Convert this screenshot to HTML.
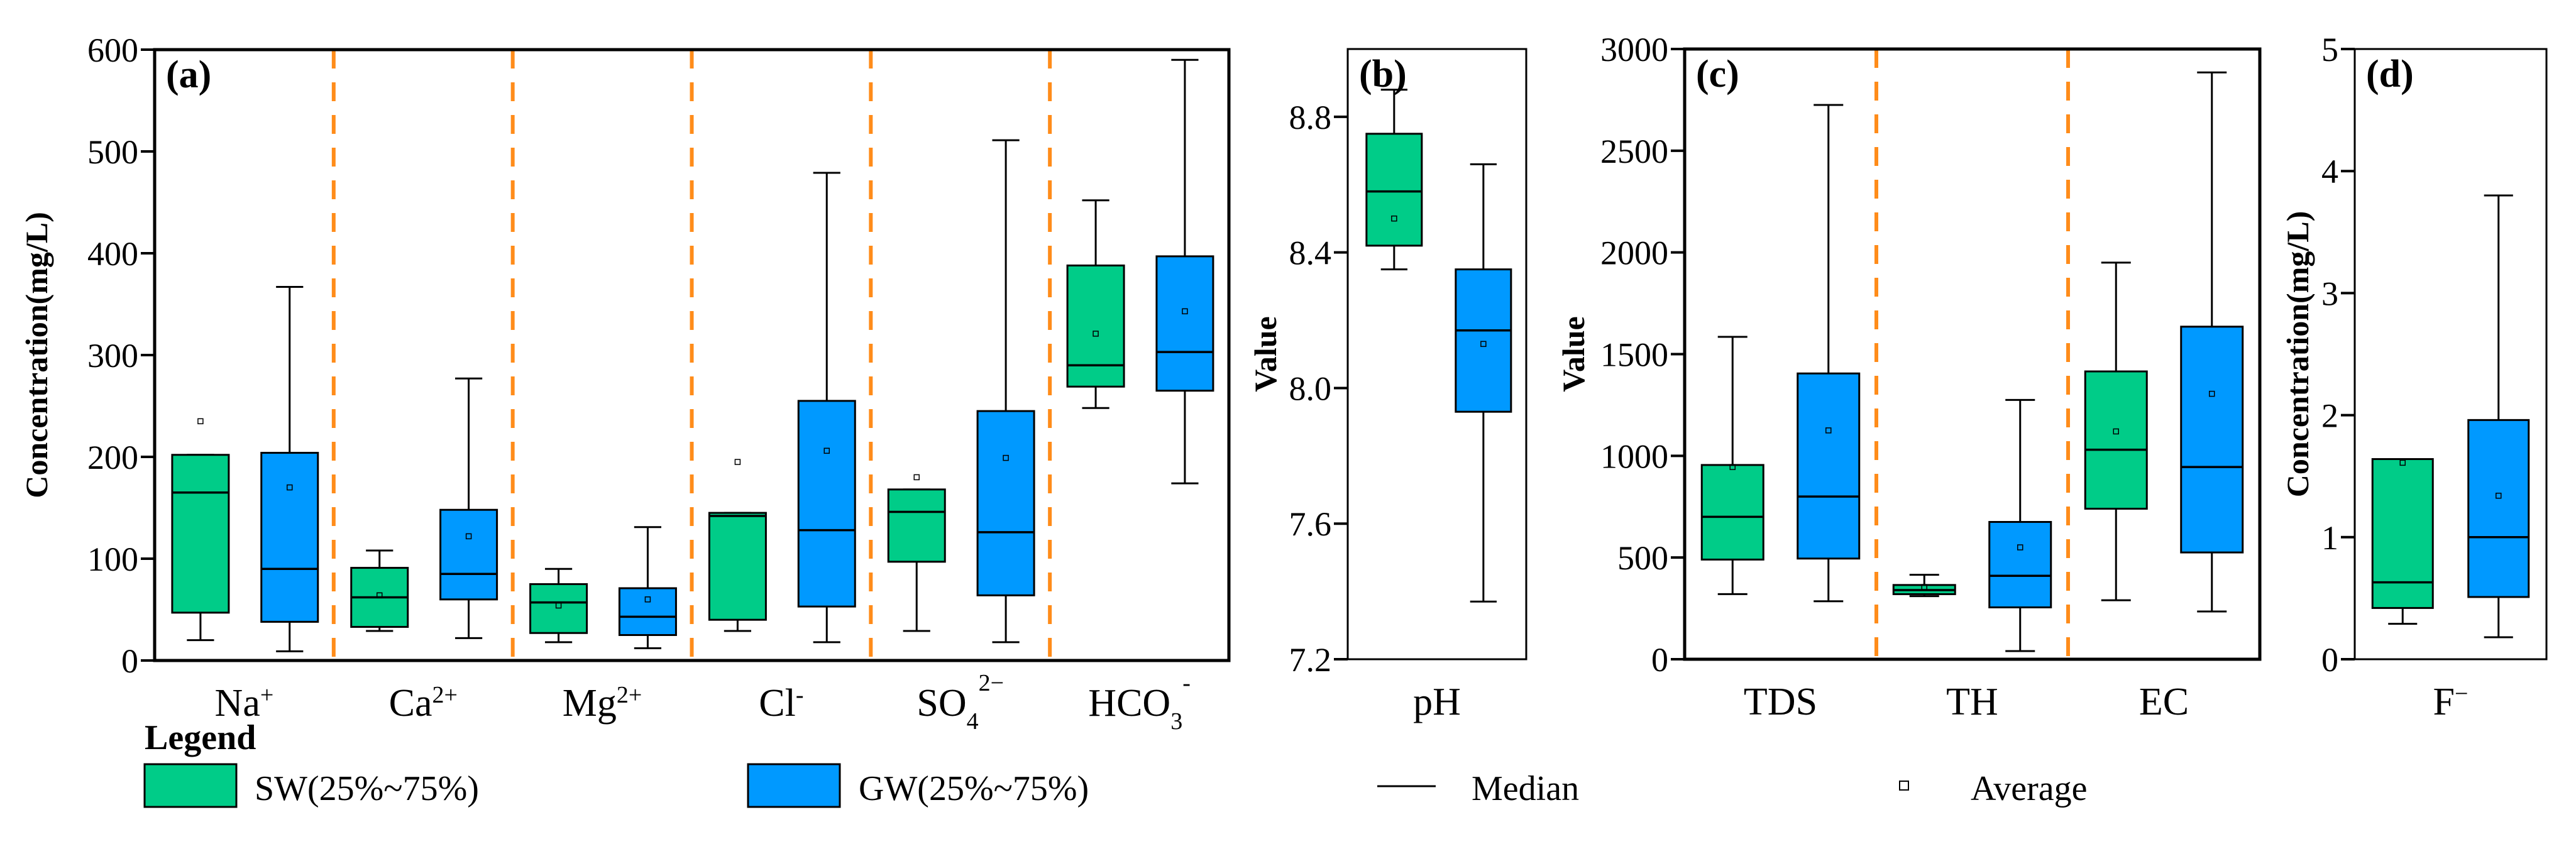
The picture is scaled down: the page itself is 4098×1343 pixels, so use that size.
<!DOCTYPE html>
<html><head><meta charset="utf-8"><style>
html,body{margin:0;padding:0;background:#fff;}
svg, svg text{font-family:"Liberation Serif","DejaVu Serif",serif;}
</style></head><body>
<svg id="c" width="4098" height="1338" viewBox="0 0 4098 1338" xmlns="http://www.w3.org/2000/svg" font-family="Liberation Serif, DejaVu Serif, serif"></svg>
<script>
// ---- data ----
const catsA = ["Na", "Ca", "Mg", "Cl", "SO4", "HCO3"];
const swA = [[20,47,165,202,202],[29,33,62,91,108],[18,27,57,75,90],[29,40,142,145,145],[29,97,146,168,168],[248,269,290,388,452]];
const gwA = [[9,38,90,204,367],[22,60,85,148,277],[12,25,43,71,131],[18,53,128,255,479],[18,64,126,245,511],[174,265,303,397,590]];
const swMeanA = [235,64,54,195,180,321];
const gwMeanA = [170,122,60,206,199,343];
const ticksA = [0,100,200,300,400,500,600];

const catsB = ["pH"];
const swB = [[8.35,8.42,8.58,8.75,8.88]];
const gwB = [[7.37,7.93,8.17,8.35,8.66]];
const swMeanB = [8.5];
const gwMeanB = [8.13];
const ticksB = [7.2,7.6,8.0,8.4,8.8];

const catsC = ["TDS","TH","EC"];
const swC = [[320,490,700,955,1585],[310,320,340,365,415],[290,740,1030,1415,1950]];
const gwC = [[285,495,800,1405,2725],[40,255,410,675,1275],[235,525,945,1635,2885]];
const swMeanC = [945,355,1120];
const gwMeanC = [1125,550,1305];
const ticksC = [0,500,1000,1500,2000,2500,3000];

const catsD = ["F"];
const swD = [[0.29,0.42,0.63,1.64,1.64]];
const gwD = [[0.18,0.51,1.0,1.96,3.8]];
const swMeanD = [1.61];
const gwMeanD = [1.34];
const ticksD = [0,1,2,3,4,5];

const NS="http://www.w3.org/2000/svg";
const svg=document.getElementById('c');
const GREEN="#00CC88", BLUE="#0099FF", ORANGE="#FF8C1A";
const FF="Liberation Serif, DejaVu Serif, serif";
function mk(tag,attrs,parent){const e=document.createElementNS(NS,tag);for(const k in attrs)e.setAttribute(k,attrs[k]);if(tag==='text')e.setAttribute('font-family',FF);(parent||svg).appendChild(e);return e;}

function panel(o){
  const g=mk('g',{});
  
  
  const y=v=>o.bottom-(v-o.min)/(o.max-o.min)*(o.bottom-o.top);
  const n=o.cats.length, w=(o.right-o.left)/n;
  for(let i=1;i<n;i++){
    const l=mk('line',{x1:o.left+i*w,x2:o.left+i*w,y1:o.top,y2:o.bottom+6,stroke:ORANGE,'stroke-width':6,'stroke-dasharray':'30,22'},g);
    
    
  }
  function box(cx,d,mean,color,nm){
    const bg=mk('g',{},g);
    
    
    const hw=o.bw/2, cw=o.bw*0.24;
    mk('line',{x1:cx,x2:cx,y1:y(d[0]),y2:y(d[1]),stroke:'#000','stroke-width':3},bg);
    mk('line',{x1:cx,x2:cx,y1:y(d[3]),y2:y(d[4]),stroke:'#000','stroke-width':3},bg);
    mk('line',{x1:cx-cw,x2:cx+cw,y1:y(d[0]),y2:y(d[0]),stroke:'#000','stroke-width':3},bg);
    mk('line',{x1:cx-cw,x2:cx+cw,y1:y(d[4]),y2:y(d[4]),stroke:'#000','stroke-width':3},bg);
    mk('rect',{x:cx-hw,y:y(d[3]),width:o.bw,height:y(d[1])-y(d[3]),fill:color,stroke:'#000','stroke-width':3},bg);
    mk('line',{x1:cx-hw,x2:cx+hw,y1:y(d[2]),y2:y(d[2]),stroke:'#000','stroke-width':3.5},bg);
    mk('rect',{x:cx-4,y:y(mean)-4,width:8,height:8,fill:'none',stroke:'#000','stroke-width':1.5},bg);
  }
  for(let i=0;i<n;i++){
    const x0=o.left+i*w;
    box(x0+w*o.p1,o.sw[i],o.swm[i],GREEN,'sw-box-'+o.keys[i]);
    box(x0+w*o.p2,o.gw[i],o.gwm[i],BLUE,'gw-box-'+o.keys[i]);
    const t=mk('text',{x:x0+w/2,y:o.bottom+88,'text-anchor':'middle','font-size':62},g);
    t.innerHTML=o.cats[i];
    
    
  }
  const f=mk('rect',{x:o.left,y:o.top,width:o.right-o.left,height:o.bottom-o.top,fill:'none',stroke:'#000','stroke-width':o.sw2||5},g);
  
  
  o.ticks.forEach(v=>{
    mk('line',{x1:o.left-22,x2:o.left,y1:y(v),y2:y(v),stroke:'#000','stroke-width':4},g);
    const t=mk('text',{x:o.left-26,y:y(v)+19,'text-anchor':'end','font-size':54},g);
    t.textContent=o.fmt?o.fmt(v):v;
    
    
  });
  const pl=mk('text',{x:o.left+18,y:o.top+60,'font-size':62,'font-weight':'bold'},g);
  pl.textContent=o.label;
  
  
  const yt=mk('text',{x:0,y:0,'text-anchor':'middle','font-size':50,'font-weight':'bold',transform:`translate(${o.ytx},${(o.top+o.bottom)/2}) rotate(-90)`},g);
  yt.textContent=o.ytitle;
  
  
}
panel({name:'panel-a-ions',label:'(a)',left:246,right:1955,top:79,bottom:1051,min:0,max:600,cats:['Na<tspan baseline-shift="super" font-size="38">+</tspan>','Ca<tspan baseline-shift="super" font-size="38">2+</tspan>','Mg<tspan baseline-shift="super" font-size="38">2+</tspan>','Cl<tspan baseline-shift="super" font-size="38">-</tspan>','SO<tspan baseline-shift="sub" font-size="38">4</tspan><tspan dy="-40" font-size="38">2−</tspan>','HCO<tspan baseline-shift="sub" font-size="38">3</tspan><tspan dy="-40" font-size="38">-</tspan>'],keys:catsA,sw:swA,gw:gwA,swm:swMeanA,gwm:gwMeanA,ticks:ticksA,bw:90,p1:0.256,p2:0.754,ytitle:'Concentration(mg/L)',ytx:75});
panel({name:'panel-b-ph',label:'(b)',left:2144,right:2428,top:78,bottom:1049,min:7.2,max:9.0,cats:catsB,keys:catsB,sw:swB,gw:gwB,swm:swMeanB,gwm:gwMeanB,ticks:ticksB,bw:88,p1:0.26,p2:0.76,ytitle:'Value',ytx:2030,sw2:3,fmt:v=>v.toFixed(1)});
panel({name:'panel-c-tds-th-ec',label:'(c)',left:2680,right:3595,top:78,bottom:1049,min:0,max:3000,cats:catsC,keys:catsC,sw:swC,gw:gwC,swm:swMeanC,gwm:gwMeanC,ticks:ticksC,bw:98,p1:0.25,p2:0.75,ytitle:'Value',ytx:2520});
panel({name:'panel-d-fluoride',label:'(d)',left:3746,right:4051,top:78,bottom:1049,min:0,max:5,cats:['F<tspan baseline-shift="super" font-size="38">−</tspan>'],keys:catsD,sw:swD,gw:gwD,swm:swMeanD,gwm:gwMeanD,ticks:ticksD,bw:96,p1:0.25,p2:0.75,ytitle:'Concentration(mg/L)',ytx:3672,sw2:3});

const lg=mk('g',{});


const lt=mk('text',{x:230,y:1192,'font-size':56,'font-weight':'bold'},lg);lt.textContent='Legend';


const e1=mk('rect',{x:230,y:1216,width:146,height:68,fill:GREEN,stroke:'#000','stroke-width':3},lg);


const t1=mk('text',{x:405,y:1273,'font-size':56},lg);t1.textContent='SW(25%~75%)';


const e2=mk('rect',{x:1190,y:1216,width:146,height:68,fill:BLUE,stroke:'#000','stroke-width':3},lg);


const t2=mk('text',{x:1366,y:1273,'font-size':56},lg);t2.textContent='GW(25%~75%)';


const e3=mk('line',{x1:2191,x2:2284,y1:1251,y2:1251,stroke:'#000','stroke-width':3},lg);


const t3=mk('text',{x:2341,y:1273,'font-size':56},lg);t3.textContent='Median';


const e4=mk('rect',{x:3022,y:1243,width:14,height:14,fill:'none',stroke:'#000','stroke-width':2},lg);


const t4=mk('text',{x:3135,y:1273,'font-size':56},lg);t4.textContent='Average';


</script>
</body></html>
